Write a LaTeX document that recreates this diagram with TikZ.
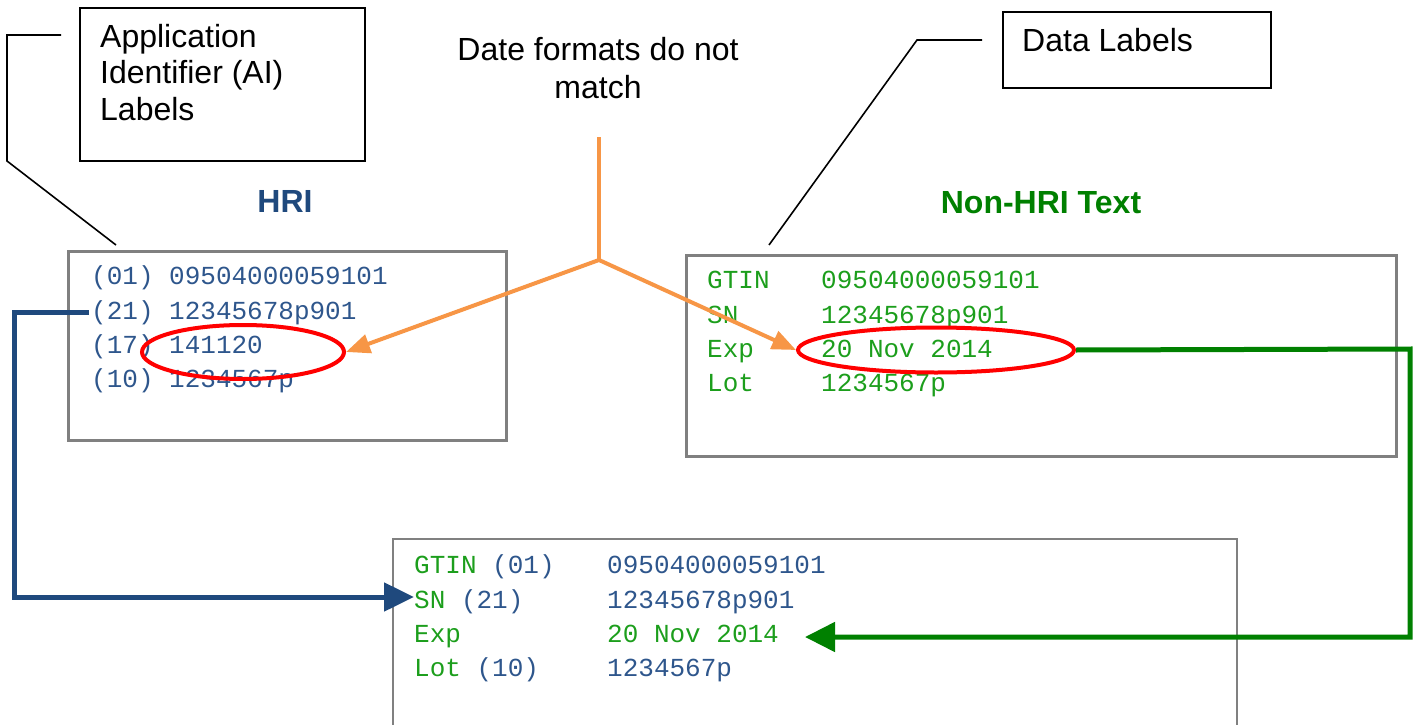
\documentclass[tikz,border=0pt]{standalone}
\usepackage{fontspec}
\setmainfont{Liberation Sans}
\setsansfont{Liberation Sans}
\setmonofont{Liberation Mono}
\usetikzlibrary{arrows.meta,shapes.geometric}
\definecolor{gsblue}{RGB}{31,73,125}
\definecolor{txblue}{RGB}{46,86,140}
\definecolor{gsgreen}{RGB}{0,128,0}
\definecolor{txgreen}{RGB}{28,158,28}
\definecolor{gsorange}{RGB}{247,150,70}
\definecolor{boxgray}{RGB}{128,128,128}
\tikzset{
  callbox/.style={draw=black, line width=2pt, inner sep=0pt},
  databox/.style={draw=boxgray, line width=2.5pt, inner sep=0pt},
  lead/.style={draw=black, line width=1.6pt},
  mono/.style={anchor=base west, inner sep=0pt, font=\fontsize{26}{30}\selectfont\ttfamily},
  sanslbl/.style={anchor=base west, inner sep=0pt, font=\fontsize{32}{36}\selectfont},
  title/.style={anchor=base, inner sep=0pt, font=\fontsize{32}{36}\selectfont\bfseries},
  oval/.style={ellipse, draw=red, line width=4pt, inner sep=0pt},
  orangearrow/.style={draw=gsorange, line width=4pt, -{Triangle[length=24pt,width=19pt]}},
}
\begin{document}
\begin{tikzpicture}[x=1pt,y=-1pt]
\useasboundingbox (0,0) rectangle (1416,725);
\clip (0,0) rectangle (1416,725);

% callout boxes
\node[callbox, minimum width=285pt, minimum height=153pt, anchor=north west] (aibox) at (79,7) {};
\node[sanslbl] (ai1) at (100,48) {Application};
\node[sanslbl] (ai2) at (100,84) {Identifier (AI)};
\node[sanslbl] (ai3) at (100,120) {Labels};
\coordinate (aistart) at (61,35);
\coordinate (aiend) at (116,245);
\draw[lead] (aistart) -- (7,35) -- (7,161) -- (aiend);

\node[callbox, minimum width=268pt, minimum height=76pt, anchor=north west] (dlbox) at (1002,11) {};
\node[sanslbl] (dl) at (1022,52) {Data Labels};
\coordinate (dlstart) at (982,40);
\coordinate (dlend) at (769,245);
\draw[lead] (dlstart) -- (917,40) -- (dlend);

% date note
\node[sanslbl, anchor=base] (dt1) at (598,61) {Date formats do not};
\node[sanslbl, anchor=base] (dt2) at (598,98) {match};

% titles
\node[title, text=gsblue] (hrit) at (285,212) {HRI};
\node[title, text=gsgreen] (nht) at (1041,213) {Non-HRI Text};

% HRI box
\node[databox, minimum width=438pt, minimum height=189pt, anchor=north west] (hribox) at (67,250) {};
\node[mono, text=txblue] (h1) at (91,284) {(01) 09504000059101};
\node[mono, text=txblue] (h2) at (91,319) {(21) 12345678p901};
\node[mono, text=txblue] (h3) at (91,353) {(17) 141120};
\node[mono, text=txblue] (h4) at (91,387) {(10) 1234567p};

% Non-HRI box
\node[databox, minimum width=710pt, minimum height=201pt, anchor=north west] (nhbox) at (685,254) {};
\node[mono, text=txgreen] (n1l) at (707,288) {GTIN};
\node[mono, text=txgreen] (n1v) at (821,288) {09504000059101};
\node[mono, text=txgreen] (n2l) at (707,323) {SN};
\node[mono, text=txgreen] (n2v) at (821,323) {12345678p901};
\node[mono, text=txgreen] (n3l) at (707,357) {Exp};
\node[mono, text=txgreen] (n3v) at (821,357) {20 Nov 2014};
\node[mono, text=txgreen] (n4l) at (707,391) {Lot};
\node[mono, text=txgreen] (n4v) at (821,391) {1234567p};

% combined box (open at the bottom)
\coordinate (obl) at (393,740);
\coordinate (obr) at (1237,740);
\draw[draw=boxgray, line width=2.5pt] (obl) -- (393,539) -- (1237,539) -- (obr);
\node[mono] (o1l) at (414,573) {\textcolor{txgreen}{GTIN} \textcolor{txblue}{(01)}};
\node[mono, text=txblue] (o1v) at (607,573) {09504000059101};
\node[mono] (o2l) at (414,608) {\textcolor{txgreen}{SN} \textcolor{txblue}{(21)}};
\node[mono, text=txblue] (o2v) at (607,608) {12345678p901};
\node[mono, text=txgreen] (o3l) at (414,642) {Exp};
\node[mono, text=txgreen] (o3v) at (607,642) {20 Nov 2014};
\node[mono] (o4l) at (414,676) {\textcolor{txgreen}{Lot} \textcolor{txblue}{(10)}};
\node[mono, text=txblue] (o4v) at (607,676) {1234567p};

% red ovals
\node[oval, minimum width=202pt, minimum height=54pt] (e1) at (243,352) {};
\node[oval, minimum width=276pt, minimum height=45pt] (e2) at (936,350) {};

% orange arrows
\coordinate (otop) at (599,137);
\coordinate (ojoin) at (599,260);
\draw[draw=gsorange, line width=4pt] (otop) -- (ojoin);
\draw[orangearrow] (ojoin) -- (e1.east);
\draw[orangearrow] (ojoin) -- (e2.west);

% blue connector
\coordinate (bstart) at (89,312);
\draw[draw=gsblue, line width=5pt, -{Triangle[length=30pt,width=28pt]}]
  (bstart) -- (14,312) -- (14,597) -- (o2l.west |- 0,597);
% green connector
\draw[draw=gsgreen, line width=5pt, -{Triangle[length=30pt,width=29pt]}]
  (e2.east) -- (1410,349) -- (1410,637) -- (805,637);
\end{tikzpicture}
\end{document}
